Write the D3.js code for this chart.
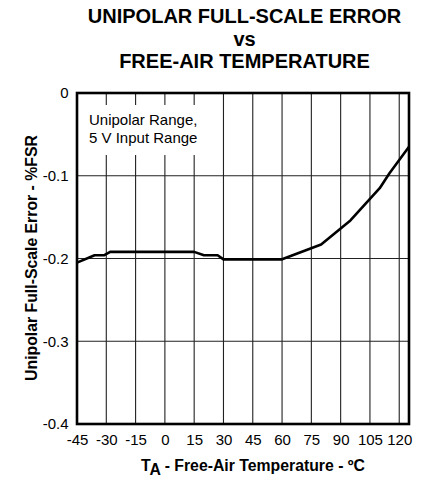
<!DOCTYPE html>
<html>
<head>
<meta charset="utf-8">
<style>
  body { margin: 0; background: #fff; }
  text { font-family: "Liberation Sans", Arial, sans-serif; fill: #000; }
</style>
</head>
<body>
<svg width="432" height="477"></svg>
<script src="https://d3js.org/d3.v7.min.js"></script>
<script>

// temperature (degC) and unipolar full-scale error (%FSR)
var temps  = [-45, -36, -31, -28, 15, 20, 27, 30, 60, 80, 95, 110, 115, 125];
var errors = [-0.205, -0.196, -0.196, -0.192, -0.192, -0.196, -0.196, -0.201, -0.201, -0.183, -0.154, -0.115, -0.097, -0.065];

var xTicks = [-45, -30, -15, 0, 15, 30, 45, 60, 75, 90, 105, 120];
var yTicks = [0, -0.1, -0.2, -0.3, -0.4];

var titleLines = ["UNIPOLAR FULL-SCALE ERROR", "vs", "FREE-AIR TEMPERATURE"];
var noteLines = ["Unipolar Range,", "5 V Input Range"];

var svg = d3.select("svg"),
    margin = {top: 93, right: 23, bottom: 53, left: 77},
    width = +svg.attr("width") - margin.left - margin.right,
    height = +svg.attr("height") - margin.top - margin.bottom;

var x = d3.scaleLinear().domain([-45, 125]).range([0, width]);
var y = d3.scaleLinear().domain([-0.4, 0]).range([height, 0]);

var g = svg.append("g").attr("transform", "translate(" + margin.left + "," + margin.top + ")");

// grid
g.append("g")
  .selectAll("line")
  .data(xTicks.slice(1))
  .enter().append("line")
    .attr("x1", function(d) { return x(d); })
    .attr("x2", function(d) { return x(d); })
    .attr("y1", 0).attr("y2", height)
    .attr("stroke", "#222").attr("stroke-width", 1.1);

g.append("g")
  .selectAll("line")
  .data(yTicks.slice(1, -1))
  .enter().append("line")
    .attr("y1", function(d) { return y(d); })
    .attr("y2", function(d) { return y(d); })
    .attr("x1", 0).attr("x2", width)
    .attr("stroke", "#222").attr("stroke-width", 1.1);

// white box behind the note hides the grid
g.append("rect")
  .attr("x", 4).attr("y", 12).attr("width", 136).attr("height", 50)
  .attr("fill", "#fff");

var note = g.append("text")
  .attr("x", 12)
  .attr("y", 32)
  .attr("font-size", 15);
note.selectAll("tspan")
  .data(noteLines)
  .enter().append("tspan")
    .attr("x", 12)
    .attr("dy", function(d, i) { return i ? 17.7 : 0; })
    .text(function(d) { return d; });

// curve
var line = d3.line()
  .x(function(d, i) { return x(temps[i]); })
  .y(function(d) { return y(d); });

g.append("path")
  .datum(errors)
  .attr("d", line)
  .attr("fill", "none")
  .attr("stroke", "#000")
  .attr("stroke-width", 2.6)
  .attr("stroke-linejoin", "round");

// frame
g.append("rect")
  .attr("width", width).attr("height", height)
  .attr("fill", "none").attr("stroke", "#000").attr("stroke-width", 2.6);

// axes (plain hyphen for the minus, as in the original)
var fmt = function(d) { return d === 0 ? "0" : d3.format(".1f")(d).replace("\u2212", "-"); };
var xAxis = g.append("g")
  .attr("transform", "translate(0," + height + ")")
  .call(d3.axisBottom(x).tickValues(xTicks).tickSize(0).tickPadding(10)
    .tickFormat(function(d) { return String(d); }));
var yAxis = g.append("g")
  .call(d3.axisLeft(y).tickValues(yTicks).tickSize(0).tickPadding(8.5).tickFormat(fmt));

[xAxis, yAxis].forEach(function(a) {
  a.select(".domain").remove();
  a.selectAll("text").attr("font-size", 15).attr("font-family", "Liberation Sans, Arial, sans-serif").attr("fill", "#000");
});

// title lines
svg.selectAll(".title")
  .data(titleLines)
  .enter().append("text")
    .attr("class", "title")
    .attr("x", 244.5)
    .attr("y", function(d, i) { return 23 + i * 22.5; })
    .attr("text-anchor", "middle")
    .attr("font-size", 20)
    .attr("font-weight", "bold")
    .text(function(d) { return d; });

var xt = svg.append("text")
  .attr("x", 253)
  .attr("y", 471)
  .attr("text-anchor", "middle")
  .attr("font-size", 15.8)
  .attr("font-weight", "bold");
xt.append("tspan").text("T");
xt.append("tspan").attr("dy", 4).text("A");
xt.append("tspan").attr("dy", -4).text(" - Free-Air Temperature - \u00baC");

svg.append("text")
  .attr("transform", "translate(37," + 258 + ") rotate(-90)")
  .attr("text-anchor", "middle")
  .attr("font-size", 15.8)
  .attr("font-weight", "bold")
  .text("Unipolar Full-Scale Error - %FSR");

</script>
</body>
</html>
